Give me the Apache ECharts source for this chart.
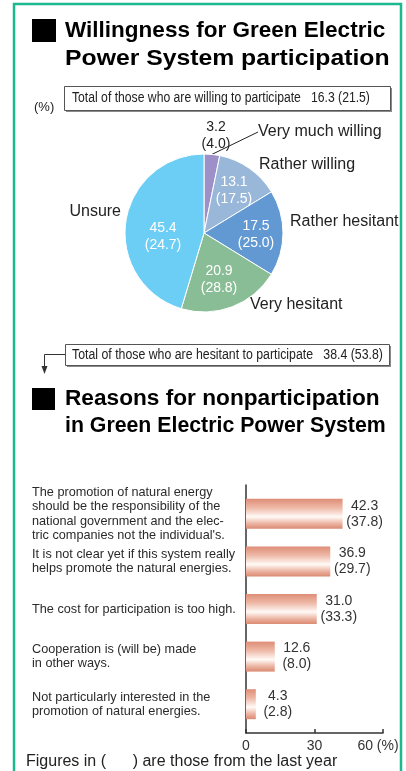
<!DOCTYPE html>
<html>
<head>
<meta charset="utf-8">
<script src="https://cdn.jsdelivr.net/npm/echarts@6/dist/echarts.min.js"></script>
<style>
html,body{margin:0;padding:0;background:#fff;}
#chart{width:406px;height:771px;}
</style>
</head>
<body>
<div id="chart"></div>
<script>
// ---- data ----
const pieNames = ['Very much willing', 'Rather willing', 'Rather hesitant', 'Very hesitant', 'Unsure'];
const pieThisYear = [3.2, 13.1, 17.5, 20.9, 45.4];
const pieLastYear = ['4.0', '17.5', '25.0', '28.8', '24.7'];
const willingTotal = ['16.3', '21.5'];
const hesitantTotal = ['38.4', '53.8'];

const reasons = [
  'The promotion of natural energy\nshould be the responsibility of the\nnational government and the elec-\ntric companies not the individual\'s.',
  'It is not clear yet if this system really\nhelps promote the natural energies.',
  'The cost for participation is too high.',
  'Cooperation is (will be) made\nin other ways.',
  'Not particularly interested in the\npromotion of natural energies.'
];
const reasonThisYear = [42.3, 36.9, 31.0, 12.6, 4.3];
const reasonLastYear = ['37.8', '29.7', '33.3', '8.0', '2.8'];
const xTickLabels = {0: '0', 30: '30', 60: '60 (%)'};

// ---- styles / layout ----
const FONT = '"Liberation Sans", Arial, Helvetica, sans-serif';
const pieColors = ['#9d90c8', '#98b7d9', '#6299d3', '#89bd95', '#6ccef4'];
const valueLabelPos = [
  {x: 216, y: 136}, {x: 234, y: 190.5}, {x: 256, y: 235}, {x: 219, y: 280}, {x: 163, y: 236.5}
];
const nameLabelPos = [
  {x: 258, y: 132, align: 'left'}, {x: 259, y: 165, align: 'left'}, {x: 290, y: 222, align: 'left'},
  {x: 250, y: 305, align: 'left'}, {x: 121, y: 212, align: 'right'}
];
const GREEN = '#1cb98e';

const chart = echarts.init(document.getElementById('chart'), null, {renderer: 'canvas'});

const pieValueData = pieNames.map((n, i) => ({
  name: n, value: pieThisYear[i],
  itemStyle: {color: pieColors[i]},
  label: i === 0 ? {color: '#222'} : {}
}));
const pieNameData = pieNames.map((n, i) => ({
  name: n, value: pieThisYear[i],
  labelLine: {show: i === 0}
}));

const barGradient = new echarts.graphic.LinearGradient(0, 0, 0, 1, [
  {offset: 0, color: '#de8d76'},
  {offset: 0.3, color: '#eeb9a7'},
  {offset: 0.6, color: '#fffaf7'},
  {offset: 0.82, color: '#ecb5a3'},
  {offset: 1, color: '#da8a72'}
]);

function shadowBox(x, y, w, h) {
  return [
    {type: 'rect', shape: {x: x + 2, y: y + 2, width: w, height: h}, style: {fill: '#8a8a8a'}},
    {type: 'rect', shape: {x: x + 0.5, y: y + 0.5, width: w, height: h}, style: {fill: '#fff', stroke: '#555', lineWidth: 1}}
  ];
}
function titleLine(text, x, y, sx) {
  return {type: 'text', x: x, y: y, scaleX: sx,
    style: {text: text, font: 'bold 22.3px ' + FONT, fill: '#000', verticalAlign: 'middle'}};
}

const option = {
  animation: false,
  textStyle: {fontFamily: FONT},
  grid: [
    {left: 246, right: 23, top: 490, height: 238},
    {left: 246, right: 23, top: 485, height: 248}
  ],
  xAxis: [
    {gridIndex: 0, type: 'value', min: 0, max: 60, show: false},
    {
      gridIndex: 1, type: 'value', min: 0, max: 60, interval: 30,
      axisLine: {show: true, lineStyle: {color: '#333', width: 1.5}},
      axisTick: {show: true, inside: true, length: 4, lineStyle: {color: '#333', width: 1.5}},
      splitLine: {show: false},
      axisLabel: {
        margin: 6, color: '#333', fontSize: 14, fontFamily: FONT,
        formatter: v => v === 60 ? '{p|' + xTickLabels[v] + '}' : xTickLabels[v],
        rich: {p: {fontSize: 14, color: '#333', fontFamily: FONT, padding: [0, 10, 0, 0]}}
      }
    }
  ],
  yAxis: [
    {
      gridIndex: 0, type: 'category', inverse: true, data: reasons,
      axisLine: {show: false}, axisTick: {show: false},
      axisLabel: {
        align: 'left', margin: 214, color: '#2a2a2a', fontSize: 12.7, lineHeight: 14.4, fontFamily: FONT
      }
    },
    {
      gridIndex: 1, type: 'value', min: 0, max: 1,
      axisLine: {show: true, lineStyle: {color: '#333', width: 1.5}},
      axisTick: {show: false}, axisLabel: {show: false}, splitLine: {show: false}
    }
  ],
  series: [
    {
      type: 'pie', center: [204, 233], radius: 79, startAngle: 90, clockwise: true,
      silent: true,
      itemStyle: {borderColor: '#fff', borderWidth: 1},
      label: {
        show: true, position: 'inside', color: '#fff', fontSize: 14, lineHeight: 17, fontFamily: FONT,
        formatter: p => p.value + '\n(' + pieLastYear[p.dataIndex] + ')'
      },
      labelLine: {show: false},
      labelLayout: p => ({
        x: valueLabelPos[p.dataIndex].x, y: valueLabelPos[p.dataIndex].y,
        align: 'center', verticalAlign: 'middle'
      }),
      data: pieValueData
    },
    {
      type: 'pie', center: [204, 233], radius: 79, startAngle: 90, clockwise: true,
      silent: true,
      itemStyle: {color: 'rgba(0,0,0,0)', borderWidth: 0},
      label: {
        show: true, position: 'outside', color: '#222', fontSize: 16, fontFamily: FONT,
        overflow: 'none', edgeDistance: 0, bleedMargin: 0,
        formatter: p => p.name
      },
      labelLine: {show: false, length: 8, length2: 0, lineStyle: {color: '#222', width: 1}},
      labelLayout: p => ({
        x: nameLabelPos[p.dataIndex].x, y: nameLabelPos[p.dataIndex].y,
        align: nameLabelPos[p.dataIndex].align, verticalAlign: 'middle'
      }),
      data: pieNameData
    },
    {
      type: 'bar', xAxisIndex: 0, yAxisIndex: 0, barWidth: 30,
      silent: true,
      itemStyle: {color: barGradient},
      label: {
        show: true, position: 'right', distance: 3,
        formatter: p => '{a|' + p.value.toFixed(1) + '}\n{a|(' + reasonLastYear[p.dataIndex] + ')}',
        rich: {a: {width: 38, align: 'center', fontSize: 14, lineHeight: 16, color: '#333', fontFamily: FONT}}
      },
      data: reasonThisYear
    }
  ],
  graphic: {
    elements: [
      // frame
      {type: 'polyline', shape: {points: [[14, 771], [14, 4], [401, 4], [401, 771]]},
        style: {stroke: GREEN, lineWidth: 2.5, fill: null}, silent: true},
      // title 1
      {type: 'rect', shape: {x: 32, y: 19, width: 24, height: 23}, style: {fill: '#000'}},
      titleLine('Willingness for Green Electric', 65, 31, 1.01),
      titleLine('Power System participation', 65, 59, 1.11),
      // willing box
      {type: 'text', x: 34, y: 107, style: {text: '(%)', font: '13px ' + FONT, fill: '#222', verticalAlign: 'middle'}},
      ...shadowBox(64, 86, 326, 24),
      {type: 'text', x: 72, y: 98.5, scaleX: 0.87, style: {text: 'Total of those who are willing to participate   ' + willingTotal[0] + ' (' + willingTotal[1] + ')', font: '14px ' + FONT, fill: '#222', verticalAlign: 'middle'}},
      // hesitant box + arrow
      {type: 'polyline', shape: {points: [[65, 354.5], [44.5, 354.5], [44.5, 367]]}, style: {stroke: '#333', lineWidth: 1, fill: null}},
      {type: 'polygon', shape: {points: [[41.5, 366], [47.5, 366], [44.5, 374]]}, style: {fill: '#333'}},
      ...shadowBox(65, 344, 324, 21),
      {type: 'text', x: 72, y: 355.5, scaleX: 0.88, style: {text: 'Total of those who are hesitant to participate   ' + hesitantTotal[0] + ' (' + hesitantTotal[1] + ')', font: '14px ' + FONT, fill: '#222', verticalAlign: 'middle'}},
      // title 2
      {type: 'rect', shape: {x: 32, y: 388, width: 23, height: 22}, style: {fill: '#000'}},
      titleLine('Reasons for nonparticipation', 65, 399, 1.016),
      titleLine('in Green Electric Power System', 65, 426, 0.955),
      // footer
      {type: 'text', x: 26, y: 762, style: {text: 'Figures in (      ) are those from the last year', font: '16px ' + FONT, fill: '#222', verticalAlign: 'middle'}}
    ]
  }
};
chart.setOption(option);
</script>
</body>
</html>
